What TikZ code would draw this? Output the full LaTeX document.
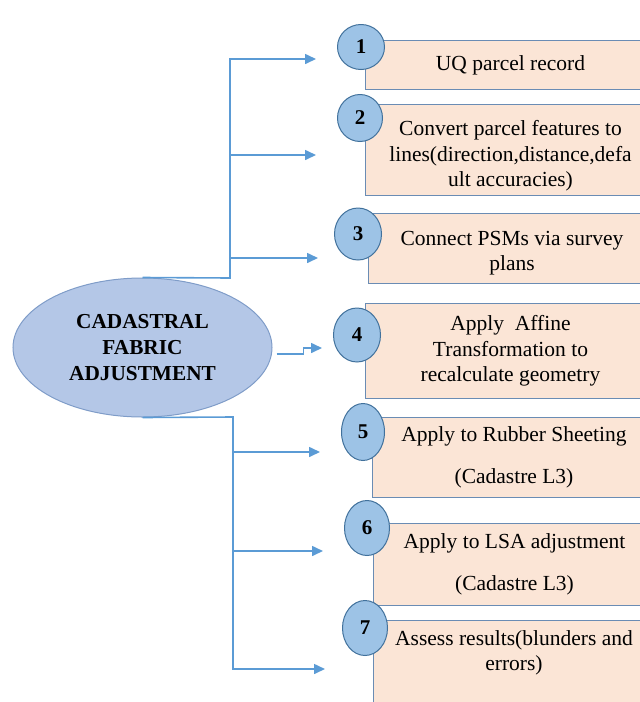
\documentclass[tikz,border=0pt]{standalone}
\usepackage{fontspec}
\setmainfont{Liberation Serif}
\usetikzlibrary{shapes.geometric,arrows.meta}
\definecolor{flowblue}{HTML}{5B9BD5}
\definecolor{boxfill}{HTML}{FBE5D6}
\definecolor{boxline}{HTML}{6A8CB4}
\definecolor{dotfill}{HTML}{9DC3E6}
\definecolor{dotline}{HTML}{41719C}
\definecolor{hubfill}{HTML}{B4C7E7}
\definecolor{hubline}{HTML}{7F9CC8}

\begin{document}
\begin{tikzpicture}[x=1pt, y=1pt,
		stepbox/.style={draw=boxline, fill=boxfill, line width=1pt, rectangle, anchor=north west, inner sep=0pt, align=center, font=\fontsize{21.5}{25.5}\selectfont},
		stepnum/.style={draw=dotline, fill=dotfill, line width=1pt, ellipse, inner sep=0pt, font=\fontsize{21}{24}\selectfont\bfseries},
		flow/.style={draw=flowblue, line width=1.6pt, -{Triangle[length=11pt,width=10pt]}}]
		\useasboundingbox (0,0) rectangle (640,-702);
		\clip (0,0) rectangle (640,-702);

		% centre
		\draw (142.5,-347.5) node[draw=hubline, fill=hubfill, line width=1pt, ellipse, minimum width=259, minimum height=139, inner sep=0pt, align=center, font=\fontsize{21.3}{26}\selectfont\bfseries] (cfa) {CADASTRAL\\FABRIC\\ADJUSTMENT};

		% steps
		\draw (365,-40)  node[stepbox, minimum width=290, minimum height=49] (b1) {UQ parcel record};
		\draw (365,-104) node[stepbox, minimum width=290, minimum height=91] (b2) {\rule{0pt}{27pt}Convert parcel features to\\lines(direction,distance,defa\\ult accuracies)};
		\draw (368,-213) node[stepbox, minimum width=287, minimum height=70] (b3) {\rule{0pt}{24pt}Connect PSMs via survey\\plans};
		\draw (365,-303) node[stepbox, minimum width=290, minimum height=95] (b4) {Apply\ \ Affine\\Transformation to\\recalculate geometry};
		\draw (372,-417) node[stepbox, minimum width=283, minimum height=80] (b5) {Apply to Rubber Sheeting\\[16pt](Cadastre L3)};
		\draw (373,-523) node[stepbox, minimum width=282, minimum height=82] (b6) {Apply to LSA adjustment\\[16pt](Cadastre L3)};
		\draw (373,-620) node[stepbox, minimum width=282, minimum height=100] (b7) {};
		\draw (514,-630) node[anchor=north, align=center, inner sep=0pt, font=\fontsize{21.5}{25.5}\selectfont] (b7text) {Assess results(blunders and\\errors)};

		\draw (361,-47)  node[stepnum, minimum width=47, minimum height=45] (n1) {1};
		\draw (360,-118) node[stepnum, minimum width=45, minimum height=47] (n2) {2};
		\draw (358,-234) node[stepnum, minimum width=47, minimum height=52] (n3) {3};
		\draw (357,-335) node[stepnum, minimum width=47, minimum height=54] (n4) {4};
		\draw (363,-432) node[stepnum, minimum width=43, minimum height=57] (n5) {5};
		\draw (367,-528) node[stepnum, minimum width=45, minimum height=55] (n6) {6};
		\draw (365,-628) node[stepnum, minimum width=45, minimum height=55] (n7) {7};

		% arrow ends and branch points
		\coordinate (upper) at (230,-278);
		\coordinate (lower) at (233,-417);
		\coordinate (j2) at (230,-155);
		\coordinate (j3) at (230,-258);
		\coordinate (j5) at (233,-452);
		\coordinate (j6) at (233,-551);
		\coordinate (t1) at (316,-59);
		\coordinate (t2) at (316,-155);
		\coordinate (t3) at (318,-258);
		\coordinate (t4) at (322,-348);
		\coordinate (t5) at (320,-452);
		\coordinate (t6) at (323,-551);
		\coordinate (t7) at (325,-669);

		\draw[flow] (cfa.north) -- (upper) |- (t1);
		\draw[flow] (j2) -- (t2);
		\draw[flow] (j3) -- (t3);
		\draw[flow] ([xshift=4pt,yshift=-6.5pt]cfa.east) -- ++(27,0) -- ++(0,6) -- (t4);
		\draw[flow] (cfa.south) -- (lower) |- (t7);
		\draw[flow] (j5) -- (t5);
		\draw[flow] (j6) -- (t6);
	\end{tikzpicture}
\end{document}
